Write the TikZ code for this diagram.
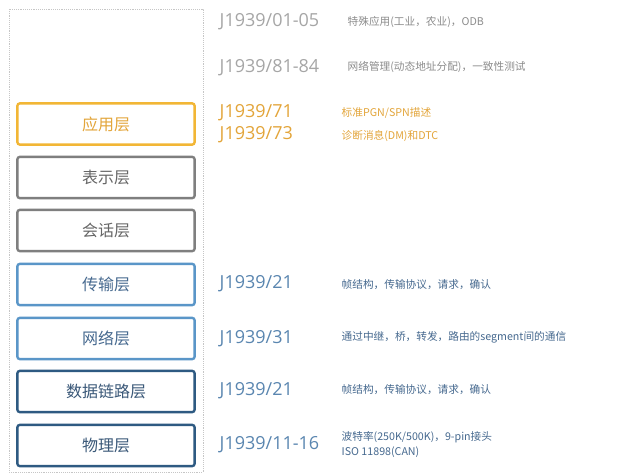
\documentclass[tikz,border=0pt]{standalone}
\usepackage{fontspec}
\setmainfont{Open Sans}
\newfontfamily\cjk{Noto Sans CJK SC}
\usetikzlibrary{positioning}

\definecolor{appcol}{HTML}{F2B635}
\definecolor{apptxt}{HTML}{E3A53A}
\definecolor{midcol}{HTML}{7F7F7F}
\definecolor{midtxt}{HTML}{666666}
\definecolor{lowcol}{HTML}{5A96C8}
\definecolor{lowtxt}{HTML}{46698F}
\definecolor{botcol}{HTML}{2E5A82}
\definecolor{bottxt}{HTML}{3A5878}
\definecolor{stdgray}{HTML}{A6A6A6}
\definecolor{descgray}{HTML}{8C8C8C}
\definecolor{stdblue}{HTML}{5A86B0}

\begin{document}
\begin{tikzpicture}[x=0.75pt,y=-0.75pt,
    layer/.style={draw, line width=1.8pt, rounded corners=2pt,
        minimum width=133pt, minimum height=31pt,
        font=\cjk\fontsize{12}{14}\selectfont},
    std/.style={anchor=west, font=\fontsize{13.5}{16}\selectfont},
    desc/.style={anchor=west, align=left, font=\cjk\fontsize{8}{11.25}\selectfont}]
    \useasboundingbox[fill=white] (0,0) rectangle (640,473);
    \draw[densely dotted, gray!45] (9,9) rectangle (203,472);

    % the seven layers
    \node[layer, draw=appcol, text=apptxt] (app) at (106,124) {应用层};
    \node[layer, draw=midcol, text=midtxt] (pres) at (106,177.5) {表示层};
    \node[layer, draw=midcol, text=midtxt] (sess) at (106,230.5) {会话层};
    \node[layer, draw=lowcol, text=lowtxt] (trans) at (106,284.5) {传输层};
    \node[layer, draw=lowcol, text=lowtxt] (net) at (106,338.5) {网络层};
    \node[layer, draw=botcol, text=bottxt] (link) at (106,391.5) {数据链路层};
    \node[layer, draw=botcol, text=bottxt] (phys) at (106,445.5) {物理层};

    % standards
    \node[std, text=stdgray] (s0105) at (215,22) {J1939/01-05};
    \node[std, text=stdgray] (s8184) at (215,68) {J1939/81-84};
    \node[std, text=apptxt] (s71) at (215,113) {J1939/71};
    \node[std, text=apptxt] (s73) at (215,135) {J1939/73};
    \node[std, text=stdblue] (s21a) at (215,284) {J1939/21};
    \node[std, text=stdblue] (s31) at (215,339) {J1939/31};
    \node[std, text=stdblue] (s21b) at (215,391) {J1939/21};
    \node[std, text=stdblue] (s1116) at (215,445) {J1939/11-16};

    % descriptions
    \node[desc, text=descgray] (d0105) at (343,22) {特殊应用(工业，农业)，ODB};
    \node[desc, text=descgray] (d8184) at (343,67) {网络管理(动态地址分配)，一致性测试};
    \node[desc, text=apptxt] (d71) at (337,113) {标准PGN/SPN描述};
    \node[desc, text=apptxt] (d73) at (337,136) {诊断消息(DM)和DTC};
    \node[desc, text=lowtxt] (d21a) at (337,285) {帧结构，传输协议，请求，确认};
    \node[desc, text=lowtxt] (d31) at (337,337) {通过中继，桥，转发，路由的segment间的通信};
    \node[desc, text=lowtxt] (d21b) at (337,390) {帧结构，传输协议，请求，确认};
    \node[desc, text=lowtxt] (d1116) at (337,444.5) {波特率(250K/500K)，9-pin接头\\ISO 11898(CAN)};
\end{tikzpicture}
\end{document}
